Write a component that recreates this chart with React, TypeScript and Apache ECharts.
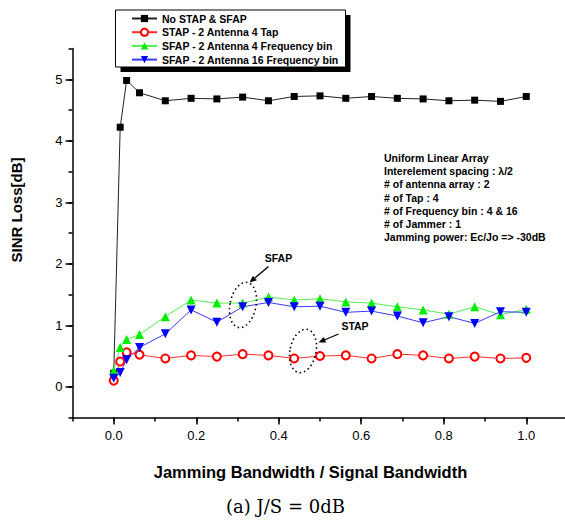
import React, { useEffect, useRef } from 'react';
import * as echarts from 'echarts';

// Jamming bandwidth / signal bandwidth (x values)
const xValues = [0, 0.015625, 0.03125, 0.0625, 0.125, 0.1875, 0.25, 0.3125, 0.375, 0.4375, 0.5, 0.5625, 0.625, 0.6875, 0.75, 0.8125, 0.875, 0.9375, 1.0];
// SINR loss [dB]
const noStapSfap = [0.22, 4.22, 4.98, 4.78, 4.65, 4.69, 4.68, 4.71, 4.65, 4.72, 4.73, 4.69, 4.72, 4.69, 4.68, 4.65, 4.66, 4.64, 4.72];
const stap4Tap = [0.1, 0.41, 0.56, 0.52, 0.46, 0.51, 0.49, 0.53, 0.51, 0.46, 0.5, 0.51, 0.46, 0.53, 0.51, 0.46, 0.49, 0.46, 0.47];
const sfap4Bin = [0.26, 0.64, 0.77, 0.85, 1.14, 1.41, 1.36, 1.36, 1.46, 1.41, 1.43, 1.38, 1.36, 1.3, 1.25, 1.18, 1.3, 1.17, 1.26];
const sfap16Bin = [0.14, 0.23, 0.44, 0.64, 0.86, 1.25, 1.05, 1.3, 1.37, 1.3, 1.31, 1.21, 1.23, 1.15, 1.04, 1.14, 1.03, 1.22, 1.21];

const seriesNames = [
  'No STAP & SFAP',
  'STAP - 2 Antenna 4 Tap',
  'SFAP - 2 Antenna 4 Frequency bin',
  'SFAP - 2 Antenna 16 Frequency bin',
];

const xTickValues = [0, 0.2, 0.4, 0.6, 0.8, 1.0];
const yTickValues = [0, 1, 2, 3, 4, 5];

const infoLines = [
  'Uniform Linear Array',
  'Interelement spacing : \u03bb/2',
  '# of antenna array : 2',
  '# of Tap : 4',
  '# of Frequency bin : 4 & 16',
  '# of Jammer : 1',
  'Jamming power: Ec/Jo => -30dB',
];

const xTitle = 'Jamming Bandwidth / Signal Bandwidth';
const yTitle = 'SINR Loss[dB]';
const caption = '(a) J/S = 0dB';

const SANS = 'Liberation Sans, Arial, sans-serif';

function arrow(x1: number, y1: number, x2: number, y2: number) {
  const dx = x2 - x1;
  const dy = y2 - y1;
  const len = Math.sqrt(dx * dx + dy * dy);
  const ux = dx / len;
  const uy = dy / len;
  const hl = 7;
  const hw = 3;
  const bx = x2 - ux * hl;
  const by = y2 - uy * hl;
  return [
    {
      type: 'line',
      z: 30,
      shape: { x1, y1, x2: bx, y2: by },
      style: { stroke: '#000', lineWidth: 1.3 },
    },
    {
      type: 'polygon',
      z: 30,
      shape: {
        points: [
          [x2, y2],
          [bx - uy * hw, by + ux * hw],
          [bx + uy * hw, by - ux * hw],
        ],
      },
      style: { fill: '#000' },
    },
  ];
}

function pair(arr: number[]) {
  return xValues.map((x, i) => [x, arr[i]]);
}

export default function App() {
  const ref = useRef<HTMLDivElement>(null);

  useEffect(() => {
    if (!ref.current) return;
    const chart = echarts.init(ref.current, null, { renderer: 'svg' });

    const tickStyle = { color: '#000', width: 1.5 };

    const option: any = {
      animation: false,
      backgroundColor: '#fff',
      grid: {
        left: 72.5,
        top: 48.5,
        width: 495,
        height: 369,
        outerBoundsMode: 'none',
        containLabel: false,
      },
      xAxis: [
        {
          type: 'value',
          min: -0.1,
          max: 1.1,
          interval: 0.1,
          position: 'bottom',
          axisLine: { show: true, onZero: false, lineStyle: { color: '#000', width: 1.5 } },
          axisTick: { show: true, inside: false, length: 4, lineStyle: tickStyle },
          axisLabel: {
            customValues: xTickValues,
            formatter: (v: number) => v.toFixed(1),
            margin: 11,
            color: '#000',
            fontSize: 13,
            fontFamily: SANS,
          },
          splitLine: { show: false },
        },
        {
          type: 'value',
          min: -0.1,
          max: 1.1,
          position: 'bottom',
          axisLine: { show: false, onZero: false },
          axisTick: { show: true, customValues: xTickValues, inside: false, length: 7, lineStyle: tickStyle },
          axisLabel: { show: false },
          splitLine: { show: false },
        },
      ],
      yAxis: [
        {
          type: 'value',
          min: -0.5,
          max: 5.5,
          interval: 0.5,
          position: 'left',
          axisLine: { show: true, onZero: false, lineStyle: { color: '#000', width: 1.5 } },
          axisTick: { show: true, inside: false, length: 4, lineStyle: tickStyle },
          axisLabel: {
            customValues: yTickValues,
            formatter: (v: number) => String(Math.round(v)),
            margin: 10,
            color: '#000',
            fontSize: 13,
            fontFamily: SANS,
          },
          splitLine: { show: false },
        },
        {
          type: 'value',
          min: -0.5,
          max: 5.5,
          position: 'left',
          axisLine: { show: false, onZero: false },
          axisTick: { show: true, customValues: yTickValues, inside: false, length: 7, lineStyle: tickStyle },
          axisLabel: { show: false },
          splitLine: { show: false },
        },
      ],
      legend: {
        orient: 'vertical',
        left: 131,
        top: 12.5,
        padding: 0,
        itemWidth: 25,
        itemHeight: 9,
        itemGap: 1.7,
        selectedMode: false,
        z: 10,
        textStyle: { fontSize: 10.5, fontWeight: 'bold', fontFamily: SANS, color: '#000', lineHeight: 12 },
        data: seriesNames,
      },
      series: [
        {
          name: seriesNames[0],
          type: 'line',
          data: pair(noStapSfap),
          symbol: 'rect',
          symbolSize: 7,
          itemStyle: { color: '#000' },
          lineStyle: { color: '#222', width: 1 },
          emphasis: { disabled: true },
        },
        {
          name: seriesNames[1],
          type: 'line',
          data: pair(stap4Tap),
          symbol: 'emptyCircle',
          symbolSize: 8,
          itemStyle: { color: '#ff0000', borderWidth: 0.8 },
          lineStyle: { color: '#ff3030', width: 1 },
          emphasis: { disabled: true },
        },
        {
          name: seriesNames[2],
          type: 'line',
          data: pair(sfap4Bin),
          symbol: 'triangle',
          symbolSize: 9,
          itemStyle: { color: '#00ee00' },
          lineStyle: { color: '#50f050', width: 1 },
          emphasis: { disabled: true },
        },
        {
          name: seriesNames[3],
          type: 'line',
          data: pair(sfap16Bin),
          symbol: 'triangle',
          symbolRotate: 180,
          symbolSize: 9,
          itemStyle: { color: '#0000ff' },
          lineStyle: { color: '#3a3aff', width: 1 },
          emphasis: { disabled: true },
        },
      ],
      graphic: [
        {
          type: 'rect',
          z: 1,
          shape: { x: 120.5, y: 15, width: 230, height: 57 },
          style: { fill: '#000' },
        },
        {
          type: 'rect',
          z: 2,
          shape: { x: 115.5, y: 10, width: 230, height: 57 },
          style: { fill: '#fff', stroke: '#000', lineWidth: 1 },
        },
        {
          type: 'text',
          z: 30,
          x: 384,
          y: 151,
          style: {
            text: infoLines.join('\n'),
            fontSize: 10.5,
            fontWeight: 'bold',
            fontFamily: SANS,
            fill: '#000',
            lineHeight: 13.3,
            align: 'left',
            verticalAlign: 'top',
          },
        },
        {
          type: 'text',
          z: 30,
          x: 16,
          y: 210,
          rotation: Math.PI / 2,
          style: {
            text: yTitle,
            fontSize: 15,
            fontWeight: 'bold',
            fontFamily: SANS,
            fill: '#000',
            align: 'center',
            verticalAlign: 'middle',
          },
        },
        {
          type: 'text',
          z: 30,
          x: 310.5,
          y: 471.5,
          style: {
            text: xTitle,
            fontSize: 16.5,
            fontWeight: 'bold',
            fontFamily: SANS,
            fill: '#000',
            align: 'center',
            verticalAlign: 'middle',
          },
        },
        {
          type: 'text',
          z: 30,
          x: 285.5,
          y: 506.5,
          style: {
            text: caption,
            fontSize: 18,
            fontFamily: 'DejaVu Serif, serif',
            fill: '#000',
            align: 'center',
            verticalAlign: 'middle',
          },
        },
        {
          type: 'text',
          z: 30,
          x: 278.5,
          y: 257.5,
          style: { text: 'SFAP', fontSize: 10.5, fontWeight: 'bold', fontFamily: SANS, fill: '#000', align: 'center', verticalAlign: 'middle' },
        },
        {
          type: 'text',
          z: 30,
          x: 355,
          y: 325.5,
          style: { text: 'STAP', fontSize: 10.5, fontWeight: 'bold', fontFamily: SANS, fill: '#000', align: 'center', verticalAlign: 'middle' },
        },
        ...arrow(268.5, 266.5, 249.5, 282.5),
        ...arrow(338.5, 334, 318.5, 342.5),
        {
          type: 'ellipse',
          z: 30,
          x: 243,
          y: 305,
          rotation: -0.2,
          shape: { cx: 0, cy: 0, rx: 13, ry: 23 },
          style: { fill: 'none', stroke: '#000', lineWidth: 1.6, lineDash: [1.5, 3] },
        },
        {
          type: 'ellipse',
          z: 30,
          x: 303,
          y: 351,
          rotation: -0.2,
          shape: { cx: 0, cy: 0, rx: 13, ry: 22 },
          style: { fill: 'none', stroke: '#000', lineWidth: 1.6, lineDash: [1.5, 3] },
        },
      ],
    };

    chart.setOption(option);
    return () => chart.dispose();
  }, []);

  return (
    <div
      ref={ref}
      style={{ position: 'fixed', left: 0, top: 0, width: 565, height: 523, background: '#fff' }}
    />
  );
}
